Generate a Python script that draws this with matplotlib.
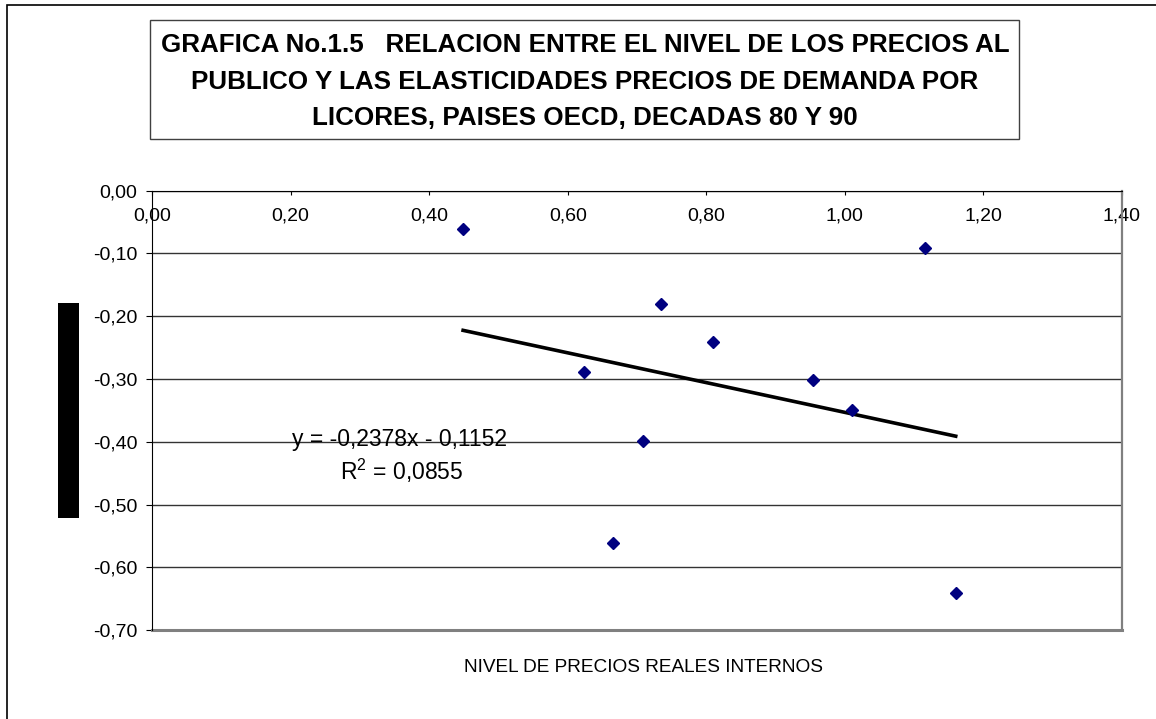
import numpy as np
import matplotlib
matplotlib.use("Agg")
import matplotlib.pyplot as plt
from matplotlib.patches import Rectangle
from matplotlib.ticker import FuncFormatter, MultipleLocator

plt.rcParams['font.family'] = ['Liberation Sans', 'DejaVu Sans']
plt.rcParams['mathtext.fontset'] = 'custom'
plt.rcParams['mathtext.rm'] = 'Liberation Sans'
plt.rcParams['mathtext.it'] = 'Liberation Sans'

# data
precios = [0.449, 1.116, 0.735, 0.809, 0.623, 0.954, 1.010, 0.709, 0.665, 1.160]
elasticidades = [-0.061, -0.091, -0.180, -0.241, -0.289, -0.301, -0.349, -0.399, -0.561, -0.640]

titulo = ["GRAFICA No.1.5   RELACION ENTRE EL NIVEL DE LOS PRECIOS AL",
          "PUBLICO Y LAS ELASTICIDADES PRECIOS DE DEMANDA POR",
          "LICORES, PAISES OECD, DECADAS 80 Y 90"]
x_label = "NIVEL DE PRECIOS REALES INTERNOS"
eq_text = "y = -0,2378x - 0,1152"
r2_text = r"R$^{\mathrm{2}}$ = 0,0855"

W, H = 1156, 719
fig = plt.figure(figsize=(W / 100, H / 100), dpi=100)


def fx(px):
    return px / W


def fy(py):
    return 1 - py / H


# outer border and title box
fig.patches.append(Rectangle((fx(7), fy(760)), fx(1200), fy(5) - fy(760), transform=fig.transFigure,
                             fill=False, edgecolor='black', linewidth=1.2))
fig.patches.append(Rectangle((fx(149.5), fy(138.5)), fx(1019.3 - 149.5), fy(20) - fy(138.5),
                             transform=fig.transFigure, fill=False, edgecolor='#404040', linewidth=1.0))
for i, linea in enumerate(titulo):
    fig.text(fx(585), fy([45, 82, 118][i]), linea, ha='center', va='center',
             fontsize=18.7, fontweight='bold')

# y label box (unreadable in the original)
fig.patches.append(Rectangle((fx(58.3), fy(517.7)), fx(79 - 58.3), fy(303.3) - fy(517.7),
                             transform=fig.transFigure, facecolor='black', edgecolor='none'))

ax = fig.add_axes([fx(152), fy(630.3), fx(1122 - 152), fy(190.5) - fy(630.3)])
ax.set_xlim(0, 1.4)
ax.set_ylim(-0.7, 0)
ax.xaxis.set_major_locator(MultipleLocator(0.2))
ax.yaxis.set_major_locator(MultipleLocator(0.1))
fmt = FuncFormatter(lambda v, p: f"{v:.2f}".replace('.', ',').replace('-0,00', '0,00'))
ax.xaxis.set_major_formatter(fmt)
ax.yaxis.set_major_formatter(fmt)

ax.spines['bottom'].set_position(('data', 0))
ax.spines['bottom'].set_color('black')
ax.spines['top'].set_visible(False)
ax.spines['right'].set_color('#808080')
ax.spines['right'].set_linewidth(1.6)
ax.axhline(-0.7, color='#808080', linewidth=2.2, zorder=1, clip_on=False)
ax.tick_params(axis='x', direction='out', length=3, pad=9, labelsize=14)
ax.tick_params(axis='y', direction='out', length=4.5, pad=6, labelsize=14)
ax.grid(axis='y', color='#333333', linewidth=1.0)
ax.set_axisbelow(True)

ax.plot(precios, elasticidades, linestyle='none', marker='D', markersize=6.6,
        color='#000080', zorder=3)

# linear trend line over the data range
m, b = np.polyfit(precios, elasticidades, 1)
xs = np.array([min(precios), max(precios)])
ax.plot(xs, m * xs + b, color='black', linewidth=2.6, zorder=2)

fig.text(fx(400), fy(439.5), eq_text, ha='center', va='center', fontsize=16.5)
fig.text(fx(402), fy(471), r2_text, ha='center', va='center', fontsize=16.5)
fig.text(fx(643), fy(668), x_label, ha='center', va='center', fontsize=13.7)

fig.savefig("out.png", dpi=100)
